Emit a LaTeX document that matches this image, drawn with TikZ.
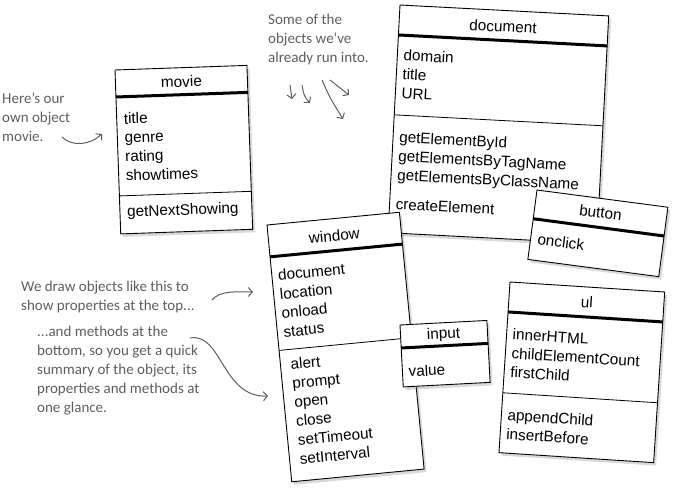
\documentclass[tikz,border=0pt]{standalone}
\usepackage{fontspec}
\setmainfont{Liberation Sans}
\newfontfamily\handfont{Carlito}
\usetikzlibrary{arrows.meta,shadows}
\definecolor{pencil}{HTML}{5E5E5E}

\begin{document}
\begin{tikzpicture}[x=1pt, y=-1pt,
    objframe/.style={draw=black, line width=0.9pt, fill=white,
      drop shadow={shadow xshift=2.5pt, shadow yshift=-3pt, opacity=0.3}},
    headrule/.style={line width=3pt},
    splitrule/.style={line width=0.8pt},
    objtitle/.style={font=\fontsize{15.3}{19}\selectfont, inner sep=0pt},
    fields/.style={font=\fontsize{15.3}{19}\selectfont, align=left, anchor=north west, inner sep=0pt},
    note/.style={font=\handfont\fontsize{15}{19}\selectfont, text=pencil, align=left, anchor=north west, inner sep=0pt},
    notearrow/.style={draw=pencil, line width=1pt, -{Straight Barb[length=4pt,width=9pt]}}]
  \useasboundingbox (0,0) rectangle (683,496);

  % document
  \begin{scope}[shift={(400,5)}, rotate=-3, transform shape]
    \draw[objframe] (0,0) rectangle (209,228);
    \draw[headrule] (0,30) -- (209,30);
    \draw[splitrule] (0,110) -- (209,110);
    \node[objtitle] (document) at (104,16) {document};
    \node[fields] (documentProps) at (6,44) {domain\\title\\URL};
    \node[fields] (documentMeths) at (6,126) {getElementById\\getElementsByTagName\\getElementsByClassName};
    \node[fields] (documentCreate) at (6,193) {createElement};
  \end{scope}

  % movie
  \begin{scope}[shift={(115,70)}, rotate=2, transform shape]
    \draw[objframe] (0,0) rectangle (132,164);
    \draw[headrule] (0,27) -- (132,27);
    \draw[splitrule] (0,126) -- (132,126);
    \node[objtitle] (movie) at (66,14) {movie};
    \node[fields] (movieProps) at (7,43) {title\\genre\\rating\\showtimes};
    \node[fields] (movieMeths) at (7,136) {getNextShowing};
  \end{scope}

  % window
  \begin{scope}[shift={(267,225)}, rotate=5.5, transform shape]
    \draw[objframe] (0,0) rectangle (133,258);
    \draw[headrule] (0,32) -- (133,32);
    \draw[splitrule] (0,126) -- (133,126);
    \node[objtitle] (window) at (66,17) {window};
    \node[fields] (windowProps) at (6,45) {document\\location\\onload\\status};
    \node[fields] (windowMeths) at (10,135) {alert\\prompt\\open\\close\\setTimeout\\setInterval};
  \end{scope}

  % input
  \begin{scope}[shift={(400,325)}, rotate=3, transform shape]
    \draw[objframe] (0,0) rectangle (87,62);
    \draw[headrule] (0,23) -- (87,23);
    \node[objtitle] (input) at (43,12) {input};
    \node[fields] (inputProps) at (6,41) {value};
  \end{scope}

  % button
  \begin{scope}[shift={(537,190)}, rotate=-7.5, transform shape]
    \draw[objframe] (0,0) rectangle (132,70);
    \draw[headrule] (0,29) -- (132,29);
    \node[objtitle] (button) at (66,14) {button};
    \node[fields] (buttonProps) at (7,43) {onclick};
  \end{scope}

  % ul
  \begin{scope}[shift={(510,282)}, rotate=-3.7, transform shape]
    \draw[objframe] (0,0) rectangle (155,171);
    \draw[headrule] (0,30) -- (155,30);
    \draw[splitrule] (0,111) -- (155,111);
    \node[objtitle] (ul) at (78,15) {ul};
    \node[fields] (ulProps) at (6,46) {innerHTML\\childElementCount\\firstChild};
    \node[fields] (ulMeths) at (6,127) {appendChild\\insertBefore};
  \end{scope}

  % handwritten notes
  \node[note] (hereNote) at (2,93) {Here’s our\\own object\\movie.};
  \node[note] (someNote) at (268,14) {Some of the\\objects we’ve\\already run into.};
  \node[note] (topNote) at (21,281) {We draw objects like this to\\show properties at the top...};
  \node[note] (bottomNote) at (37,326) {...and methods at the\\bottom, so you get a quick\\summary of the object, its\\properties and methods at\\one glance.};

  \coordinate (hereFrom) at (62,137);
  \coordinate (hereTo) at (102,134);
  \draw[notearrow] (hereFrom) .. controls (72,147) and (90,145) .. (hereTo);

  \coordinate (someFromA) at (290,85);
  \coordinate (someToA) at (292,99);
  \coordinate (someFromB) at (302,85);
  \coordinate (someToB) at (310,103);
  \coordinate (someFromC) at (322,80);
  \coordinate (someToC) at (343,119);
  \coordinate (someFromD) at (330,80);
  \coordinate (someToD) at (349,95);
  \draw[notearrow] (someFromA) -- (someToA);
  \draw[notearrow] (someFromB) .. controls (304,96) .. (someToB);
  \draw[notearrow] (someFromC) .. controls (330,98) .. (someToC);
  \draw[notearrow] (someFromD) -- (someToD);

  \coordinate (topFrom) at (212,300);
  \coordinate (topTo) at (253,292);
  \draw[notearrow] (topFrom) .. controls (220,290) and (238,292) .. (topTo);

  \coordinate (bottomFrom) at (190,338);
  \coordinate (bottomTo) at (268,396);
  \draw[notearrow] (bottomFrom) .. controls (222,332) and (222,398) .. (bottomTo);
\end{tikzpicture}
\end{document}
